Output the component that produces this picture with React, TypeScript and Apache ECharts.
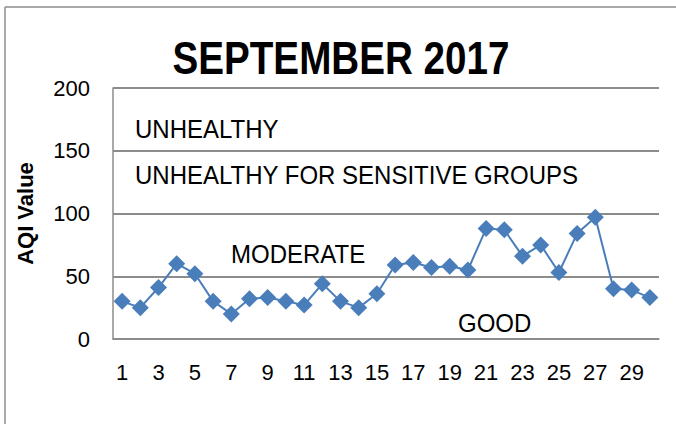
import React, { useEffect, useRef } from "react";
import * as echarts from "echarts";

const days = Array.from({ length: 30 }, (_, i) => String(i + 1));
const aqiValues = [30, 25, 41, 60, 52, 30, 20, 32, 33, 30, 27, 44, 30, 25, 36, 59, 61, 57, 58, 55, 88, 87, 66, 75, 53, 84, 97, 40, 39, 33];
const yTicks = [0, 50, 100, 150, 200];
const zoneLabels = ["UNHEALTHY", "UNHEALTHY FOR SENSITIVE GROUPS", "MODERATE", "GOOD"];
const titleText = "SEPTEMBER 2017";

const FONT = "'Liberation Sans', Arial, sans-serif";

export default function App() {
  const ref = useRef<HTMLDivElement>(null);
  useEffect(() => {
    const chart = echarts.init(ref.current!, null, { renderer: "svg" });
    const zoneText = (text: string, x: number, y: number) => ({
      type: "text",
      x,
      y,
      scaleX: 0.96,
      style: { text, fontFamily: FONT, fontSize: 25, fill: "#000", textAlign: "left", textVerticalAlign: "middle" },
    });
    chart.setOption({
      animation: false,
      backgroundColor: "#ffffff",
      grid: { left: 113, right: 17, top: 88, bottom: 85 },
      xAxis: {
        type: "category",
        data: days,
        boundaryGap: true,
        axisLine: { show: true, lineStyle: { color: "#8c8c8c", width: 1.5 } },
        axisTick: { show: false },
        axisLabel: { interval: 1, fontFamily: FONT, fontSize: 22, color: "#000", margin: 22 },
      },
      yAxis: {
        type: "value",
        min: 0,
        max: 200,
        interval: 50,
        name: "AQI Value",
        nameLocation: "middle",
        nameGap: 77,
        nameTextStyle: { fontFamily: FONT, fontSize: 22, fontWeight: "bold", color: "#000" },
        axisLine: { show: true, lineStyle: { color: "#8c8c8c", width: 1.5 } },
        axisTick: { show: false },
        axisLabel: {
          fontFamily: FONT, fontSize: 22, color: "#000", margin: 23,
          formatter: (v: number) => (yTicks.includes(v) ? String(v) : ""),
        },
        splitLine: { show: true, lineStyle: { color: "#8c8c8c", width: 2 } },
      },
      series: [
        {
          type: "line",
          data: aqiValues,
          symbol: "diamond",
          symbolSize: 17,
          showAllSymbol: true,
          lineStyle: { color: "#4A7EBB", width: 2 },
          itemStyle: { color: "#4A7EBB" },
        },
      ],
      graphic: [
        { type: "line", shape: { x1: 5, y1: 7, x2: 676, y2: 7 }, style: { stroke: "#8c8c8c", lineWidth: 1.5 } },
        { type: "line", shape: { x1: 5, y1: 7, x2: 5, y2: 424 }, style: { stroke: "#8c8c8c", lineWidth: 1.5 } },
        {
          type: "text",
          x: 341,
          y: 58,
          scaleX: 0.84,
          style: {
            text: titleText, fontFamily: FONT, fontSize: 46, fontWeight: "bold", fill: "#000",
            textAlign: "center", textVerticalAlign: "middle",
          },
        },
        zoneText(zoneLabels[0], 135, 129),
        zoneText(zoneLabels[1], 135, 175),
        zoneText(zoneLabels[2], 231, 254),
        zoneText(zoneLabels[3], 458, 323),
      ],
    });
    return () => chart.dispose();
  }, []);
  return (
    <div
      ref={ref}
      style={{ position: "fixed", left: 0, top: 0, width: 676, height: 424 }}
    />
  );
}
